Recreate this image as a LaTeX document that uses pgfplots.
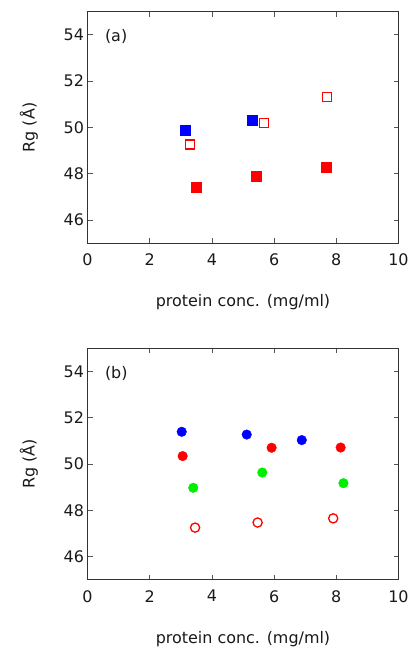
\documentclass[border=0pt]{standalone}
\usepackage{fontspec}
\setmainfont{DejaVu Sans}
\usepackage{pgfplots}
\pgfplotsset{compat=1.18}
\definecolor{axcol}{HTML}{333333}
\definecolor{tickcol}{HTML}{555555}
\definecolor{mblue}{HTML}{0000FF}
\definecolor{mred}{HTML}{FF0000}
\definecolor{mgreen}{HTML}{00EE00}

\newcommand{\lblfont}{\fontsize{16}{18}\selectfont}

\pgfplotsset{
  panel/.style={
    anchor=south west,
    scale only axis,
    width=311bp, height=231.5bp,
    xmin=0, xmax=10, ymin=45, ymax=55,
    xtick={0,2,4,6,8,10}, ytick={46,48,50,52,54},
    tick align=inside,
    major tick length=5bp,
    tick style={color=tickcol, line width=0.8pt},
    axis line style={color=axcol, line width=0.8pt},
    ticklabel style={font=\lblfont, text=black!90},
    xticklabel style={yshift=-7bp},
    /pgf/number format/assume math mode=true,
    xlabel={protein conc. (mg/ml)},
    ylabel={Rg (Å)},
    every axis x label/.style={at={(rel axis cs:0.5,0)}, yshift=-59bp, anchor=center, font=\lblfont, text=black!90},
    every axis y label/.style={at={(rel axis cs:0,0.5)}, xshift=-58.5bp, rotate=90, anchor=center, font=\lblfont, text=black!90},
  },
}

\begin{document}
\begin{tikzpicture}
\useasboundingbox (0bp,0bp) rectangle (414bp,-648bp);

% panel (a)
\begin{axis}[panel, at={(87.5bp,-243.2bp)}]
  % blue filled squares
  \addplot[only marks, mark=square*, mark size=5bp, mark options={fill=mblue, draw=mblue}]
    coordinates {(3.13,49.90) (5.28,50.31)};
  % red filled squares
  \addplot[only marks, mark=square*, mark size=5bp, mark options={fill=mred, draw=mred}]
    coordinates {(3.51,47.41) (5.44,47.90) (7.69,48.27)};
  % red open squares
  \addplot[only marks, mark=square, mark size=4.5bp, mark options={draw=mred, fill=white, line width=1.3bp}]
    coordinates {(3.30,49.26) (5.68,50.19) (7.69,51.33)};
  \node[anchor=west, font=\lblfont, text=black!90] at (rel axis cs:0.045,0.892) {(a)};
\end{axis}

% panel (b)
\begin{axis}[panel, at={(87.5bp,-579.7bp)}]
  % blue circles
  \addplot[only marks, mark=*, mark size=4.8bp, mark options={fill=mblue, draw=mblue}]
    coordinates {(3.03,51.39) (5.12,51.27) (6.89,51.03)};
  % red filled circles
  \addplot[only marks, mark=*, mark size=4.8bp, mark options={fill=mred, draw=mred}]
    coordinates {(3.06,50.34) (5.92,50.70) (8.14,50.71)};
  % green circles
  \addplot[only marks, mark=*, mark size=4.8bp, mark options={fill=mgreen, draw=mgreen}]
    coordinates {(3.40,48.97) (5.62,49.63) (8.23,49.17)};
  % red open circles
  \addplot[only marks, mark=o, mark size=4.6bp, mark options={draw=mred, fill=white, line width=1.3bp}]
    coordinates {(3.46,47.25) (5.47,47.47) (7.90,47.65)};
  \node[anchor=west, font=\lblfont, text=black!90] at (rel axis cs:0.045,0.892) {(b)};
\end{axis}
\end{tikzpicture}
\end{document}
